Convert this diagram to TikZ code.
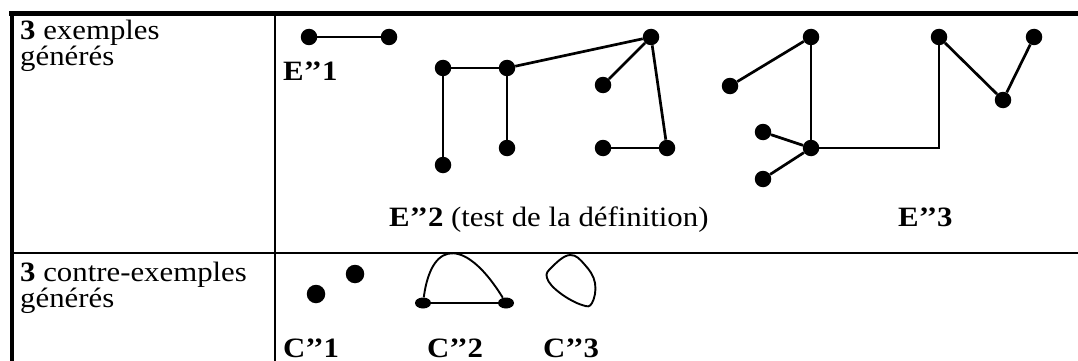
\documentclass[tikz,border=0pt]{standalone}
\usepackage{fontspec}
\setmainfont{Liberation Serif}
\usetikzlibrary{shapes.geometric}

\tikzset{
    vertex/.style={circle, fill=black, inner sep=0pt, minimum size=16.5pt},
    bigvertex/.style={circle, fill=black, inner sep=0pt, minimum size=18.5pt},
    flatvertex/.style={ellipse, fill=black, inner sep=0pt, minimum width=16pt, minimum height=11pt},
    edge/.style={line width=2.7pt},
    thinedge/.style={line width=1.9pt},
    cell/.style={anchor=base west, inner sep=0pt, xscale=1.1, font=\fontsize{28}{32}\selectfont},
}

\begin{document}
\begin{tikzpicture}[x=1pt, y=-1pt]

    \useasboundingbox (0,0) rectangle (1078,361);

    % Table frame
    \draw[line width=4.5pt] (9,13.5) -- (1078,13.5);
    \draw[line width=4pt] (11.5,11.5) -- (11.5,361);
    \draw[line width=2pt] (275,13.5) -- (275,361);
    \draw[line width=2pt] (11.5,253) -- (1078,253);

    % Left column texts
    \node[cell] (exTxt1) at (20,40) {\textbf{3} exemples};
    \node[cell] (exTxt2) at (20,66) {générés};
    \node[cell] (ceTxt1) at (20,281) {\textbf{3} contre-exemples};
    \node[cell] (ceTxt2) at (20,307) {générés};

    % Example E''1
    \node[vertex] (e1a) at (309,37) {};
    \node[vertex] (e1b) at (389,37) {};
    \draw[edge] (e1a) -- (e1b);
    \node[cell] (lblE1) at (283,80) {\textbf{E’’1}};

    % Example E''2
    \foreach \n/\x/\y in {a/443/68, b/507/68, c/443/165, d/507/148,
                          e/651/37, f/603/85, g/603/148, h/667/148} {
        \node[vertex] (e2\n) at (\x,\y) {};
    }
    \foreach \a/\b in {a/b, a/c, b/d, b/e, e/f, e/h, g/h} {
        \draw[edge] (e2\a) -- (e2\b);
    }
    \node[cell] (lblE2) at (389,226) {\textbf{E’’2} (test de la définition)};

    % Example E''3
    \foreach \n/\x/\y in {p/730/86, q/811/37, r/811/148, s/763/132,
                          t/763/179, u/939/37, v/1003/100, w/1034/37} {
        \node[vertex] (e3\n) at (\x,\y) {};
    }
    \coordinate (e3k) at (939,148);
    \foreach \a/\b in {p/q, q/r, s/r, t/r, u/v, v/w} {
        \draw[edge] (e3\a) -- (e3\b);
    }
    \draw[edge] (e3r) -- (e3k) -- (e3u);
    \node[cell] (lblE3) at (898,226) {\textbf{E’’3}};

    % Counter-example C''1
    \node[bigvertex] (c1a) at (316,294) {};
    \node[bigvertex] (c1b) at (355,274) {};
    \node[cell] (lblC1) at (283,357) {\textbf{C’’1}};

    % Counter-example C''2
    \node[flatvertex] (c2a) at (423,303) {};
    \node[flatvertex] (c2b) at (506,303) {};
    \draw[thinedge] (c2a) -- (c2b);
    \draw[thinedge] (c2a) .. controls (432,236) and (468,241) .. (c2b);
    \node[cell] (lblC2) at (427,357) {\textbf{C’’2}};

    % Counter-example C''3
    \draw[thinedge] plot[smooth cycle, tension=0.7] coordinates
        {(570,255) (585,265) (595,283) (592,303) (582,305) (560,293) (547,278) (552,267)};
    \node[cell] (lblC3) at (543,357) {\textbf{C’’3}};

\end{tikzpicture}
\end{document}
